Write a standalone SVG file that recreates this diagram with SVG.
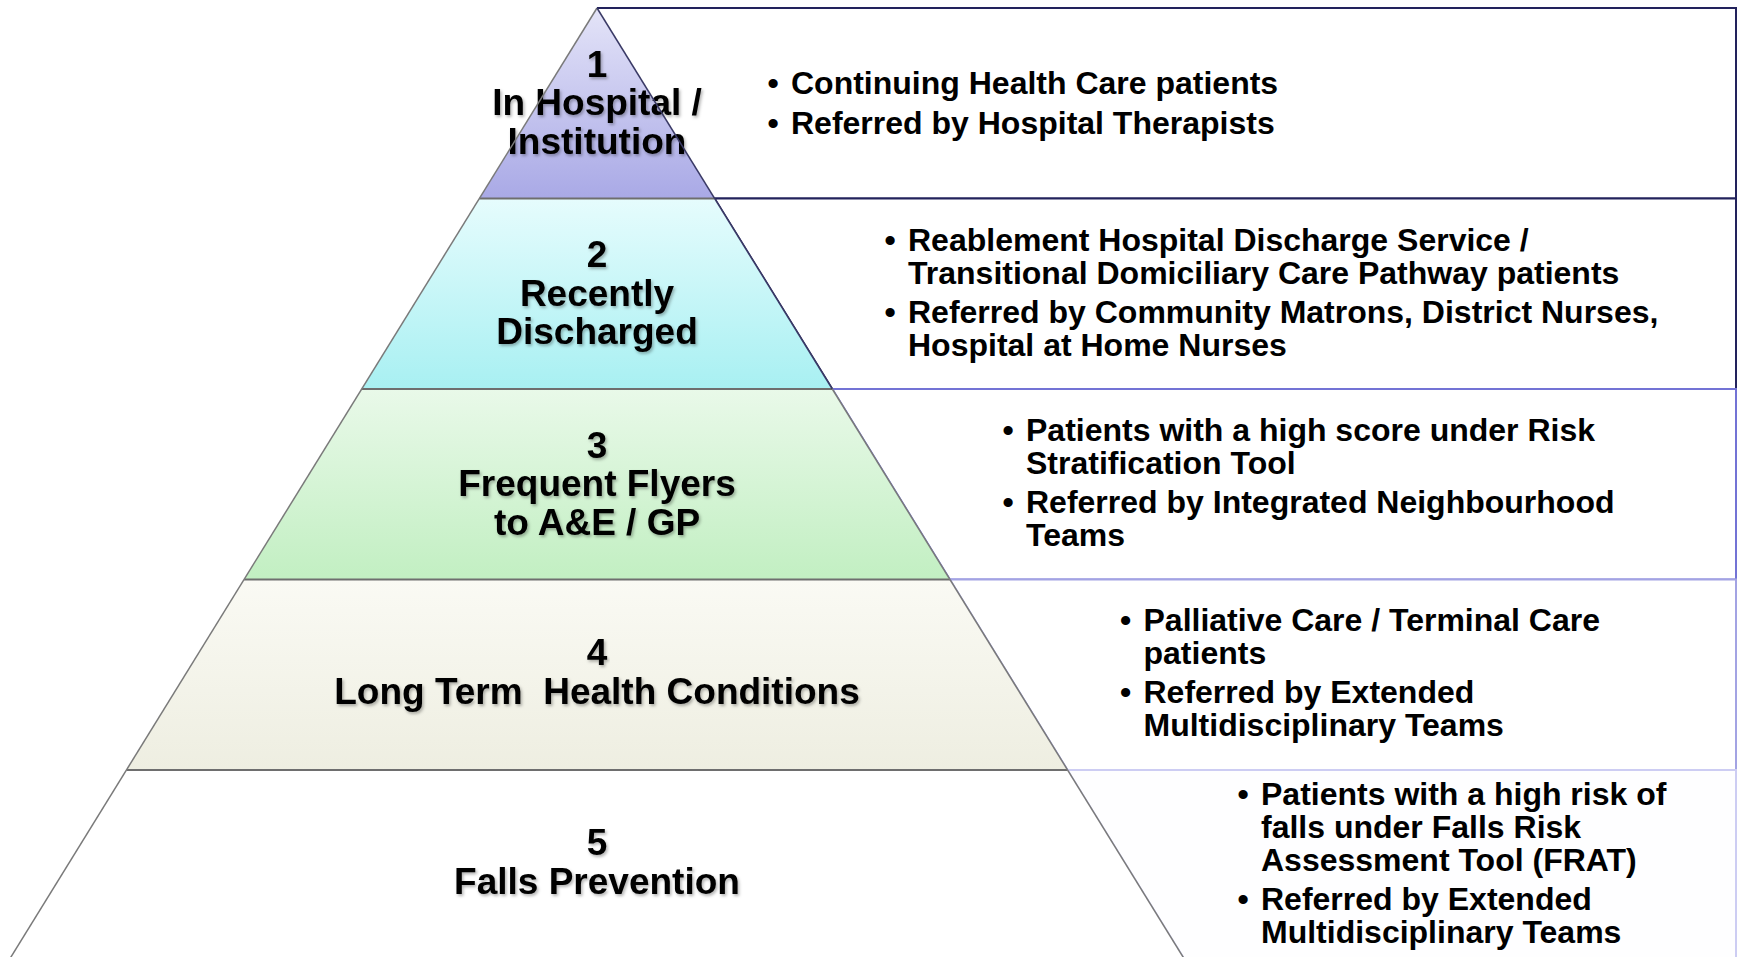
<svg xmlns="http://www.w3.org/2000/svg" width="1737" height="957" viewBox="0 0 1737 957">
<defs>
<linearGradient id="g1" x1="0" y1="0" x2="0" y2="1"><stop offset="0" stop-color="#e4e4f8"/><stop offset="1" stop-color="#a9a9e6"/></linearGradient>
<linearGradient id="g2" x1="0" y1="0" x2="0" y2="1"><stop offset="0" stop-color="#e6fcfd"/><stop offset="1" stop-color="#a8f0f2"/></linearGradient>
<linearGradient id="g3" x1="0" y1="0" x2="0" y2="1"><stop offset="0" stop-color="#e9f9e9"/><stop offset="1" stop-color="#c2efc2"/></linearGradient>
<linearGradient id="g4" x1="0" y1="0" x2="0" y2="1"><stop offset="0" stop-color="#fafaf4"/><stop offset="1" stop-color="#eeeee1"/></linearGradient>
<filter id="sh" x="-10%" y="-20%" width="120%" height="140%"><feDropShadow dx="1.5" dy="2" stdDeviation="1.5" flood-color="#000" flood-opacity="0.3"/></filter>
</defs>
<style>
.lvl{font-family:"Liberation Sans",Arial,sans-serif;font-weight:bold;font-size:37px;fill:#000;text-anchor:middle;filter:url(#sh)}
.txt{font-family:"Liberation Sans",Arial,sans-serif;font-weight:bold;font-size:32px;fill:#000}
.bul{text-anchor:middle}
.sep{stroke:#6e6e6e;stroke-width:2;fill:none}
.edge{stroke:#7a7a7a;stroke-width:1.5;fill:none}
.box{fill:none;stroke-width:2}
</style>
<rect width="1737" height="957" fill="#ffffff"/>
<g id="boxes">
<path class="box" d="M597,8 H1736 V198.5 H714.6" stroke="#22225c"/>
<path d="M714.6,198.5 H1736 V389 H832.3 Z" fill="#ffffff" stroke="#22225c" stroke-width="2"/>
<path d="M832.3,389 H1736 V579.5 H949.9 Z" fill="#ffffff" stroke="#7373d5" stroke-width="2"/>
<path d="M949.9,579.5 H1736 V770 H1067.5 Z" fill="#ffffff" stroke="#a3a3e3" stroke-width="2"/>
<path d="M1067.5,770 H1736 V960 H1184.9 Z" fill="#fefeff" stroke="#cdcdf3" stroke-width="2"/>
</g>
<g id="level1">
<polygon points="597,8 714.6,198.5 479.4,198.5" fill="url(#g1)"/>
<text class="lvl" x="597" y="76.5">1</text>
<text class="lvl" x="597" y="115">In Hospital /</text>
<text class="lvl" x="597" y="153.5">Institution</text>
<text class="txt bul" x="773" y="94">•</text>
<text class="txt" x="791" y="94">Continuing Health Care patients</text>
<text class="txt bul" x="773" y="133.5">•</text>
<text class="txt" x="791" y="133.5">Referred by Hospital Therapists</text>
</g>
<g id="level2">
<polygon points="479.4,198.5 714.6,198.5 832.3,389 361.7,389" fill="url(#g2)"/>
<text class="lvl" x="597" y="267">2</text>
<text class="lvl" x="597" y="305.5">Recently</text>
<text class="lvl" x="597" y="344">Discharged</text>
<text class="txt bul" x="890" y="251">•</text>
<text class="txt" x="908" y="251">Reablement Hospital Discharge Service /</text>
<text class="txt" x="908" y="284">Transitional Domiciliary Care Pathway patients</text>
<text class="txt bul" x="890" y="323">•</text>
<text class="txt" x="908" y="323">Referred by Community Matrons, District Nurses,</text>
<text class="txt" x="908" y="356">Hospital at Home Nurses</text>
</g>
<g id="level3">
<polygon points="361.7,389 832.3,389 949.9,579.5 244.1,579.5" fill="url(#g3)"/>
<text class="lvl" x="597" y="457.5">3</text>
<text class="lvl" x="597" y="496">Frequent Flyers</text>
<text class="lvl" x="597" y="534.5">to A&amp;E / GP</text>
<text class="txt bul" x="1008" y="440.5">•</text>
<text class="txt" x="1026" y="440.5">Patients with a high score under Risk</text>
<text class="txt" x="1026" y="473.5">Stratification Tool</text>
<text class="txt bul" x="1008" y="512.5">•</text>
<text class="txt" x="1026" y="512.5">Referred by Integrated Neighbourhood</text>
<text class="txt" x="1026" y="545.5">Teams</text>
</g>
<g id="level4">
<polygon points="244.1,579.5 949.9,579.5 1067.5,770 126.5,770" fill="url(#g4)"/>
<text class="lvl" x="597" y="665">4</text>
<text class="lvl" x="597" y="704" xml:space="preserve">Long Term  Health Conditions</text>
<text class="txt bul" x="1125.5" y="631">•</text>
<text class="txt" x="1143.5" y="631">Palliative Care / Terminal Care</text>
<text class="txt" x="1143.5" y="664">patients</text>
<text class="txt bul" x="1125.5" y="703">•</text>
<text class="txt" x="1143.5" y="703">Referred by Extended</text>
<text class="txt" x="1143.5" y="736">Multidisciplinary Teams</text>
</g>
<g id="level5">
<polygon points="126.5,770 1067.5,770 1184.9,960 9.1,960" fill="#ffffff"/>
<text class="lvl" x="597" y="855">5</text>
<text class="lvl" x="597" y="894">Falls Prevention</text>
<text class="txt bul" x="1243" y="805">•</text>
<text class="txt" x="1261" y="805">Patients with a high risk of</text>
<text class="txt" x="1261" y="838">falls under Falls Risk</text>
<text class="txt" x="1261" y="871">Assessment Tool (FRAT)</text>
<text class="txt bul" x="1243" y="910">•</text>
<text class="txt" x="1261" y="910">Referred by Extended</text>
<text class="txt" x="1261" y="943">Multidisciplinary Teams</text>
</g>
<g id="connectors">
<line class="sep" x1="479.4" y1="198.5" x2="714.6" y2="198.5"/>
<line class="sep" x1="361.7" y1="389" x2="832.3" y2="389"/>
<line class="sep" x1="244.1" y1="579.5" x2="949.9" y2="579.5"/>
<line class="sep" x1="126.5" y1="770" x2="1067.5" y2="770"/>
<line class="edge" x1="597" y1="8" x2="9.1" y2="960"/>
<line x1="597" y1="8" x2="832.3" y2="389" stroke="#3a3a66" stroke-width="1.5"/>
<line class="edge" x1="832.3" y1="389" x2="1184.9" y2="960"/>
</g>
</svg>
